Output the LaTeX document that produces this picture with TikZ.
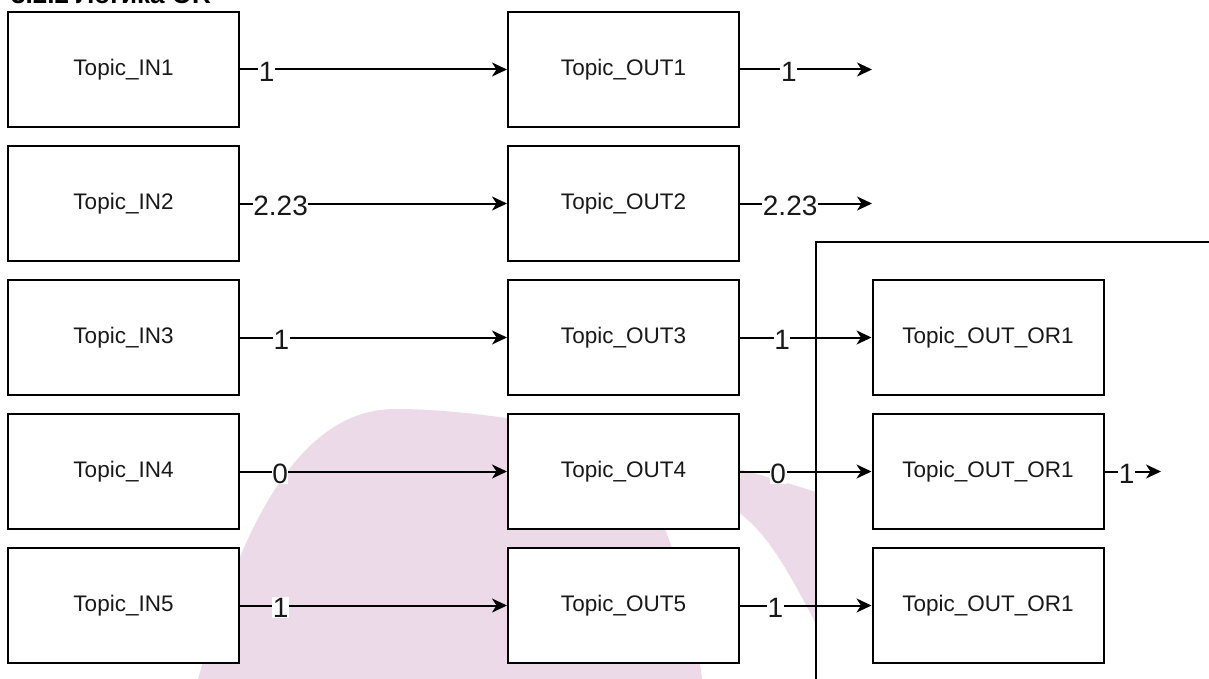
\documentclass[tikz,border=0pt]{standalone}
\usepackage{fontspec}
\setmainfont{Liberation Sans}
\usetikzlibrary{arrows.meta}
\definecolor{blob}{RGB}{236,218,233}
\definecolor{ink}{RGB}{25,25,25}
\begin{document}
\begin{tikzpicture}[x=1pt,y=-1pt,
  box/.style={draw=black, line width=2pt, fill=white, minimum width=231pt, minimum height=115pt, inner sep=0pt, font=\fontsize{22.5}{26}\selectfont, text=ink},
  conn/.style={line width=2pt, -{Stealth[length=15pt,width=14pt,inset=4.5pt]}},
  lbl/.style={fill=white, inner sep=0.6pt, yshift=-2pt, font=\fontsize{28}{30}\selectfont, text=ink}]
\useasboundingbox (0,0) rectangle (1209,679);
\clip (0,0) rectangle (1209,679);
% watermark blob
\fill[blob] (190,700) -- (198,679) .. controls (235,550) and (290,409) .. (395,409)
  .. controls (520,409) and (700,455) .. (816,492) -- (860,500) -- (860,700) -- (830,660)
  -- (815,622) .. controls (785,565) and (765,530) .. (735,510)
  .. controls (700,492) and (665,490) .. (650,492)
  .. controls (680,560) and (695,620) .. (705,700) -- cycle;
% container
\fill[white] (816,242) rectangle (1260,760);
\draw[line width=2pt] (816,760) -- (816,242) -- (1260,242);
% title (cut off at top)
\node[anchor=base west, inner sep=0pt, font=\bfseries\fontsize{26}{28}\selectfont] (title) at (11,4) {3.2.2 Логика OR};
% boxes
\node[box] (in1) at (123.5,69.5) {Topic\_IN1};
\node[box] (in2) at (123.5,203.5) {Topic\_IN2};
\node[box] (in3) at (123.5,337.5) {Topic\_IN3};
\node[box] (in4) at (123.5,471.5) {Topic\_IN4};
\node[box] (in5) at (123.5,605.5) {Topic\_IN5};
\node[box] (out1) at (623.5,69.5) {Topic\_OUT1};
\node[box] (out2) at (623.5,203.5) {Topic\_OUT2};
\node[box] (out3) at (623.5,337.5) {Topic\_OUT3};
\node[box] (out4) at (623.5,471.5) {Topic\_OUT4};
\node[box] (out5) at (623.5,605.5) {Topic\_OUT5};
\node[box] (or1) at (988,337.5) {Topic\_OUT\_OR1};
\node[box] (or2) at (988,471.5) {Topic\_OUT\_OR1};
\node[box] (or3) at (988,605.5) {Topic\_OUT\_OR1};
\coordinate (e1) at (872,69.5);
\coordinate (e2) at (872,203.5);
\coordinate (e3) at (1161,471.5);
% connectors
\draw[conn] (in1) -- node[lbl,pos=0.1]{1} (out1);
\draw[conn] (in2) -- node[lbl,pos=0.152]{2.23} (out2);
\draw[conn] (in3) -- node[lbl,pos=0.155]{1} (out3);
\draw[conn] (in4) -- node[lbl,pos=0.15]{0} (out4);
\draw[conn] (in5) -- node[lbl,pos=0.152]{1} (out5);
\draw[conn] (out1) -- node[lbl,pos=0.37]{1} (e1);
\draw[conn] (out2) -- node[lbl,pos=0.38]{2.23} (e2);
\draw[conn] (out3) -- node[lbl,pos=0.32]{1} (or1);
\draw[conn] (out4) -- node[lbl,pos=0.29]{0} (or2);
\draw[conn] (out5) -- node[lbl,pos=0.27]{1} (or3);
\draw[conn] (or2) -- node[lbl,pos=0.39]{1} (e3);
\end{tikzpicture}
\end{document}
